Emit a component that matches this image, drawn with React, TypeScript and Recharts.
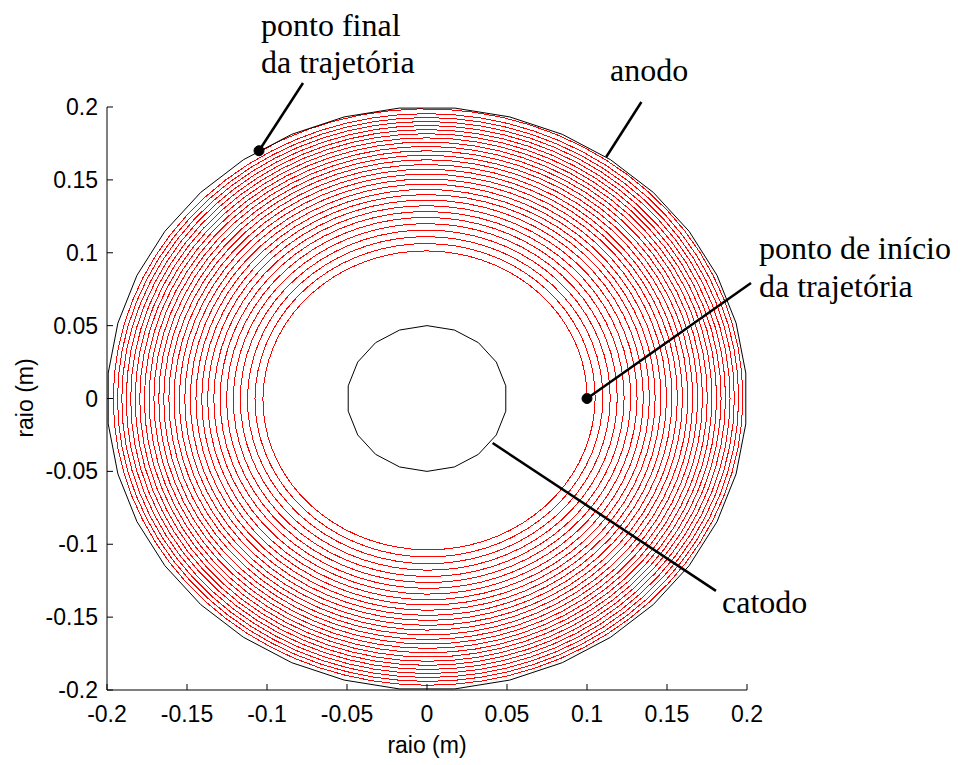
import React from 'react';
import { ComposedChart, Line, XAxis, YAxis, ReferenceLine, ReferenceDot } from 'recharts';

// Radius of the trajectory each time it crosses the positive x axis (m)
const TURN_RADII = [
  0.1, 0.1051, 0.1099, 0.1145, 0.1189, 0.1232, 0.1273, 0.1313, 0.1352, 0.139,
  0.1426, 0.1462, 0.1497, 0.1531, 0.1565, 0.1597, 0.163, 0.1661, 0.1692, 0.1722,
  0.1752, 0.1781, 0.181, 0.1838, 0.1866, 0.1894, 0.1921, 0.1948, 0.1974,
];
const END_ANGLE_DEG = 122;
const END_RADIUS = 0.1992;

const CATHODE_RADIUS = 0.05;
const CATHODE_SIDES = 18;
const ANODE_RADIUS = 0.2;
const ANODE_SIDES = 36;

const X_TICKS = [-0.2, -0.15, -0.1, -0.05, 0, 0.05, 0.1, 0.15, 0.2];
const X_TICK_LABELS = ['-0.2', '-0.15', '-0.1', '-0.05', '0', '0.05', '0.1', '0.15', '0.2'];
const Y_TICKS = [-0.2, -0.15, -0.1, -0.05, 0, 0.05, 0.1, 0.15, 0.2];
const Y_TICK_LABELS = ['-0.2', '-0.15', '-0.1', '-0.05', '0', '0.05', '0.1', '0.15', '0.2'];

const START_POINT = { x: 0.1, y: 0 };
const END_POINT = { x: -0.105, y: 0.17 };

const STEPS_PER_TURN = 72;

function buildSpiral() {
  const pts: { x: number; y: number }[] = [];
  for (let k = 0; k < TURN_RADII.length - 1; k++) {
    for (let j = 0; j < STEPS_PER_TURN; j++) {
      const t = j / STEPS_PER_TURN;
      const th = 2 * Math.PI * t;
      const r = TURN_RADII[k] + (TURN_RADII[k + 1] - TURN_RADII[k]) * t;
      pts.push({ x: r * Math.cos(th), y: r * Math.sin(th) });
    }
  }
  const last = TURN_RADII[TURN_RADII.length - 1];
  const endSteps = Math.round((END_ANGLE_DEG / 360) * STEPS_PER_TURN);
  for (let j = 0; j <= endSteps; j++) {
    const f = j / endSteps;
    const th = (END_ANGLE_DEG * Math.PI / 180) * f;
    const r = last + (END_RADIUS - last) * f;
    pts.push({ x: r * Math.cos(th), y: r * Math.sin(th) });
  }
  return pts;
}

function buildPolygon(radius: number, sides: number) {
  const pts: { x: number; y: number }[] = [];
  const offset = Math.PI / sides;
  for (let i = 0; i <= sides; i++) {
    const th = offset + (2 * Math.PI * i) / sides;
    pts.push({ x: radius * Math.cos(th), y: radius * Math.sin(th) });
  }
  return pts;
}

const spiral = buildSpiral();
const cathode = buildPolygon(CATHODE_RADIUS, CATHODE_SIDES);
const anode = buildPolygon(ANODE_RADIUS, ANODE_SIDES);

const SANS = '"Liberation Sans", Arial, sans-serif';
const TICK_FONT = { fontFamily: SANS, fontSize: 23, fill: '#000' };
const SERIF = '"Liberation Serif", "Times New Roman", serif';

const XTick = (props: any) => {
  const { x, y, payload } = props;
  const i = X_TICKS.indexOf(payload.value);
  return (
    <g>
      <line x1={x} x2={x} y1={y} y2={y - 6} stroke="#000" strokeWidth={1} />
      <text x={x} y={y + 32} textAnchor="middle" {...TICK_FONT}>
        {i >= 0 ? X_TICK_LABELS[i] : payload.value}
      </text>
    </g>
  );
};

const YTick = (props: any) => {
  const { x, y, payload } = props;
  const i = Y_TICKS.indexOf(payload.value);
  return (
    <g>
      <line x1={x} x2={x + 6} y1={y} y2={y} stroke="#000" strokeWidth={1} />
      <text x={x - 9} y={y + 8} textAnchor="end" {...TICK_FONT}>
        {i >= 0 ? Y_TICK_LABELS[i] : payload.value}
      </text>
    </g>
  );
};

const annotStroke = { stroke: '#000', strokeWidth: 2.5 };

export default function App() {
  return (
    <div style={{ position: 'absolute', left: 0, top: 0, width: 962, height: 765, background: '#fff' }}>
      <ComposedChart
        width={962}
        height={765}
        margin={{ top: 107, right: 215, bottom: 45, left: 47 }}
        style={{ overflow: 'visible' }}
      >
        <XAxis
          type="number"
          dataKey="x"
          domain={[-0.2, 0.2]}
          ticks={X_TICKS}
          allowDataOverflow
          tickLine={false}
          tickSize={0}
          tickMargin={0}
          height={30}
          axisLine={{ stroke: '#000', strokeWidth: 1 }}
          tick={<XTick />}
          interval={0}
        />
        <YAxis
          type="number"
          dataKey="y"
          domain={[-0.2, 0.2]}
          ticks={Y_TICKS}
          allowDataOverflow
          tickLine={false}
          tickSize={0}
          tickMargin={0}
          width={60}
          axisLine={{ stroke: '#000', strokeWidth: 1 }}
          tick={<YTick />}
          interval={0}
        />
        <Line data={spiral} dataKey="y" type="linear" dot={false} stroke="#ff0000" strokeWidth={1} shapeRendering="crispEdges" isAnimationActive={false} />
        <Line data={anode} dataKey="y" type="linear" dot={false} stroke="#000" strokeWidth={1} isAnimationActive={false} />
        <Line data={cathode} dataKey="y" type="linear" dot={false} stroke="#000" strokeWidth={1} isAnimationActive={false} />

        <ReferenceLine segment={[END_POINT, { x: -0.0775, y: 0.2165 }]} ifOverflow="visible" {...annotStroke} />
        <ReferenceLine segment={[{ x: 0.112, y: 0.1657 }, { x: 0.134, y: 0.2034 }]} ifOverflow="visible" {...annotStroke} />
        <ReferenceLine segment={[START_POINT, { x: 0.2025, y: 0.0793 }]} ifOverflow="visible" {...annotStroke} />
        <ReferenceLine segment={[{ x: 0.041, y: -0.0305 }, { x: 0.1806, y: -0.132 }]} ifOverflow="visible" {...annotStroke} />
        <ReferenceDot x={END_POINT.x} y={END_POINT.y} r={5} fill="#000" stroke="#000" ifOverflow="visible" />
        <ReferenceDot x={START_POINT.x} y={START_POINT.y} r={5} fill="#000" stroke="#000" ifOverflow="visible" />
      </ComposedChart>
      <svg width={962} height={765} style={{ position: 'absolute', left: 0, top: 0, pointerEvents: 'none' }}>
        <g fontFamily={SERIF} fontSize={32} fill="#000">
          <text x={261} y={36}>ponto final</text>
          <text x={261} y={73}>da trajetória</text>
          <text x={610} y={81}>anodo</text>
          <text x={759} y={259}>ponto de início</text>
          <text x={759} y={297}>da trajetória</text>
          <text x={722} y={613}>catodo</text>
        </g>
        <g fontFamily={SANS} fontSize={23} fill="#000">
          <text x={427} y={753} textAnchor="middle">raio (m)</text>
          <text x={0} y={0} textAnchor="middle" transform="translate(33,398) rotate(-90)">raio (m)</text>
        </g>
      </svg>
    </div>
  );
}
